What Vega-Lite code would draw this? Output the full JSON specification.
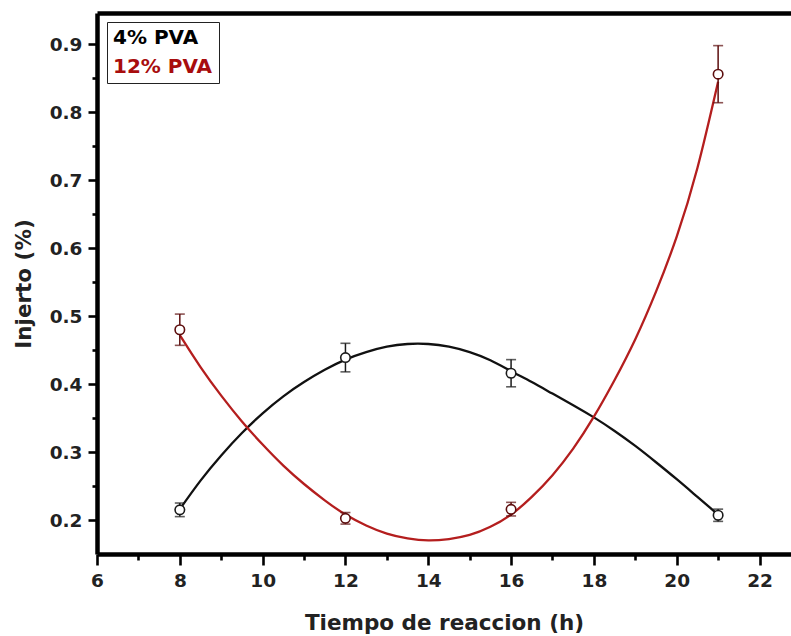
{
  "$schema": "https://vega.github.io/schema/vega-lite/v6.json",
  "width": 694,
  "height": 541,
  "autosize": {"type": "none"},
  "padding": {"left": 97, "top": 13, "right": 0, "bottom": 82},
  "background": "white",
  "config": {
    "view": {"stroke": null},
    "font": "DejaVu Sans"
  },
  "datasets": {
    "curves": [
      {"series": "4% PVA", "x": 8, "y": 0.216},
      {"series": "4% PVA", "x": 8.5, "y": 0.258},
      {"series": "4% PVA", "x": 9, "y": 0.295},
      {"series": "4% PVA", "x": 9.5, "y": 0.328},
      {"series": "4% PVA", "x": 10, "y": 0.357},
      {"series": "4% PVA", "x": 10.5, "y": 0.382},
      {"series": "4% PVA", "x": 11, "y": 0.403},
      {"series": "4% PVA", "x": 11.5, "y": 0.421},
      {"series": "4% PVA", "x": 12, "y": 0.436},
      {"series": "4% PVA", "x": 12.5, "y": 0.447},
      {"series": "4% PVA", "x": 13, "y": 0.455},
      {"series": "4% PVA", "x": 13.5, "y": 0.459},
      {"series": "4% PVA", "x": 14, "y": 0.459},
      {"series": "4% PVA", "x": 14.5, "y": 0.455},
      {"series": "4% PVA", "x": 15, "y": 0.447},
      {"series": "4% PVA", "x": 15.5, "y": 0.435},
      {"series": "4% PVA", "x": 16, "y": 0.419},
      {"series": "4% PVA", "x": 16.5, "y": 0.403},
      {"series": "4% PVA", "x": 17, "y": 0.386},
      {"series": "4% PVA", "x": 17.5, "y": 0.369},
      {"series": "4% PVA", "x": 18, "y": 0.351},
      {"series": "4% PVA", "x": 18.5, "y": 0.331},
      {"series": "4% PVA", "x": 19, "y": 0.309},
      {"series": "4% PVA", "x": 19.5, "y": 0.285},
      {"series": "4% PVA", "x": 20, "y": 0.260},
      {"series": "4% PVA", "x": 20.5, "y": 0.234},
      {"series": "4% PVA", "x": 21, "y": 0.208},
      {"series": "12% PVA", "x": 8, "y": 0.472},
      {"series": "12% PVA", "x": 8.5, "y": 0.425},
      {"series": "12% PVA", "x": 9, "y": 0.383},
      {"series": "12% PVA", "x": 9.5, "y": 0.345},
      {"series": "12% PVA", "x": 10, "y": 0.311},
      {"series": "12% PVA", "x": 10.5, "y": 0.280},
      {"series": "12% PVA", "x": 11, "y": 0.253},
      {"series": "12% PVA", "x": 11.5, "y": 0.229},
      {"series": "12% PVA", "x": 12, "y": 0.208},
      {"series": "12% PVA", "x": 12.5, "y": 0.192},
      {"series": "12% PVA", "x": 13, "y": 0.180},
      {"series": "12% PVA", "x": 13.5, "y": 0.173},
      {"series": "12% PVA", "x": 14, "y": 0.170},
      {"series": "12% PVA", "x": 14.5, "y": 0.172},
      {"series": "12% PVA", "x": 15, "y": 0.178},
      {"series": "12% PVA", "x": 15.5, "y": 0.190},
      {"series": "12% PVA", "x": 16, "y": 0.208},
      {"series": "12% PVA", "x": 16.5, "y": 0.234},
      {"series": "12% PVA", "x": 17, "y": 0.266},
      {"series": "12% PVA", "x": 17.5, "y": 0.305},
      {"series": "12% PVA", "x": 18, "y": 0.352},
      {"series": "12% PVA", "x": 18.5, "y": 0.406},
      {"series": "12% PVA", "x": 19, "y": 0.466},
      {"series": "12% PVA", "x": 19.5, "y": 0.536},
      {"series": "12% PVA", "x": 20, "y": 0.617},
      {"series": "12% PVA", "x": 20.5, "y": 0.718},
      {"series": "12% PVA", "x": 21, "y": 0.845}
    ],
    "points": [
      {"series": "4% PVA", "x": 8, "y": 0.215, "lo": 0.205, "hi": 0.225},
      {"series": "4% PVA", "x": 12, "y": 0.439, "lo": 0.418, "hi": 0.460},
      {"series": "4% PVA", "x": 16, "y": 0.416, "lo": 0.396, "hi": 0.436},
      {"series": "4% PVA", "x": 21, "y": 0.207, "lo": 0.198, "hi": 0.216},
      {"series": "12% PVA", "x": 8, "y": 0.480, "lo": 0.457, "hi": 0.503},
      {"series": "12% PVA", "x": 12, "y": 0.2025, "lo": 0.194, "hi": 0.211},
      {"series": "12% PVA", "x": 16, "y": 0.2157, "lo": 0.206, "hi": 0.226},
      {"series": "12% PVA", "x": 21, "y": 0.856, "lo": 0.814, "hi": 0.898}
    ]
  },
  "resolve": {"axis": {"x": "independent", "y": "independent"}},
  "layer": [
    {
      "data": {"name": "curves"},
      "mark": {"type": "line", "interpolate": "natural", "strokeWidth": 2.3},
      "encoding": {
        "x": {
          "field": "x", "type": "quantitative",
          "scale": {"domain": [6, 22.76], "nice": false, "zero": false},
          "axis": {
            "orient": "bottom",
            "values": [6,7,8,9,10,11,12,13,14,15,16,17,18,19,20,21,22],
            "labelExpr": "datum.value % 2 == 0 ? datum.label : ''",
            "format": "d",
            "grid": false,
            "domainColor": "black", "domainWidth": 4.5,
            "tickColor": "black", "tickWidth": 2.6,
            "tickSize": {"condition": {"test": "datum.value % 2 != 0", "value": 6}, "value": 11},
            "labelFont": "DejaVu Sans", "labelFontWeight": "bold", "labelFontSize": 18.5,
            "labelColor": "#222222", "labelPadding": 6, "labelFlush": false, "labelOverlap": false,
            "title": "Tiempo de reaccion (h)",
            "titleFont": "DejaVu Sans", "titleFontWeight": "bold", "titleFontSize": 21.5,
            "titleColor": "#222222", "titlePadding": 23
          }
        },
        "y": {
          "field": "y", "type": "quantitative",
          "scale": {"domain": [0.15, 0.946], "nice": false, "zero": false},
          "axis": {
            "orient": "left",
            "values": [0.2,0.3,0.4,0.5,0.6,0.7,0.8,0.9],
            "format": ".1f",
            "grid": false,
            "domainColor": "black", "domainWidth": 4.5,
            "tickColor": "black", "tickWidth": 2.6, "tickSize": 9,
            "labelFont": "DejaVu Sans", "labelFontWeight": "bold", "labelFontSize": 18.5,
            "labelColor": "#222222", "labelPadding": 6, "labelFlush": false, "labelOverlap": false,
            "title": "Injerto (%)",
            "titleFont": "DejaVu Sans", "titleFontWeight": "bold", "titleFontSize": 21.5,
            "titleColor": "#222222", "titlePadding": 14
          }
        },
        "color": {
          "field": "series", "type": "nominal",
          "scale": {"domain": ["4% PVA", "12% PVA"], "range": ["#111111", "#b41e1e"]},
          "legend": {
            "orient": "none", "legendX": 10, "legendY": 9,
            "title": null,
            "strokeColor": "#222222", "fillColor": "white",
            "padding": 6,
            "symbolType": "circle",
            "symbolSize": 1, "symbolOpacity": 0, "symbolStrokeWidth": 0,
            "labelOffset": -20,
            "labelFont": "DejaVu Sans", "labelFontWeight": "bold", "labelFontSize": 20,
            "rowPadding": 9,
            "encode": {
              "labels": {"update": {"fill": {"signal": "datum.value === '4% PVA' ? '#000000' : '#a80d0d'"}}}
            }
          }
        },
        "detail": {"field": "series"}
      }
    },
    {
      "data": {"name": "points"},
      "mark": {"type": "rule", "strokeWidth": 1.5},
      "encoding": {
        "x": {
          "field": "x", "type": "quantitative",
          "axis": {"orient": "top", "labels": false, "ticks": false, "title": null, "grid": false, "domainColor": "black", "domainWidth": 4.5}
        },
        "y": {
          "field": "lo", "type": "quantitative",
          "axis": {
            "orient": "left",
            "values": [0.25,0.35,0.45,0.55,0.65,0.75,0.85],
            "labels": false, "domain": false, "grid": false, "title": null,
            "tickColor": "black", "tickWidth": 2.6, "tickSize": 5
          }
        },
        "y2": {"field": "hi"},
        "stroke": {
          "field": "series", "type": "nominal",
          "scale": {"domain": ["4% PVA", "12% PVA"], "range": ["#1a1a1a", "#5c0d0d"]},
          "legend": null
        }
      }
    },
    {
      "data": {"name": "points"},
      "mark": {"type": "tick", "orient": "horizontal", "size": 10, "thickness": 1.6},
      "encoding": {
        "x": {"field": "x", "type": "quantitative", "axis": null},
        "y": {"field": "lo", "type": "quantitative", "axis": null},
        "fill": {
          "field": "series", "type": "nominal",
          "scale": {"domain": ["4% PVA", "12% PVA"], "range": ["#1a1a1a", "#5c0d0d"]},
          "legend": null
        }
      }
    },
    {
      "data": {"name": "points"},
      "mark": {"type": "tick", "orient": "horizontal", "size": 10, "thickness": 1.6},
      "encoding": {
        "x": {"field": "x", "type": "quantitative", "axis": null},
        "y": {"field": "hi", "type": "quantitative", "axis": null},
        "fill": {
          "field": "series", "type": "nominal",
          "scale": {"domain": ["4% PVA", "12% PVA"], "range": ["#1a1a1a", "#5c0d0d"]},
          "legend": null
        }
      }
    },
    {
      "data": {"name": "points"},
      "mark": {"type": "point", "shape": "circle", "size": 90, "filled": false, "fill": "white", "fillOpacity": 1, "strokeWidth": 1.6, "opacity": 1},
      "encoding": {
        "x": {"field": "x", "type": "quantitative", "axis": null},
        "y": {"field": "y", "type": "quantitative", "axis": null},
        "stroke": {
          "field": "series", "type": "nominal",
          "scale": {"domain": ["4% PVA", "12% PVA"], "range": ["#1a1a1a", "#5c0d0d"]},
          "legend": null
        }
      }
    }
  ]
}
